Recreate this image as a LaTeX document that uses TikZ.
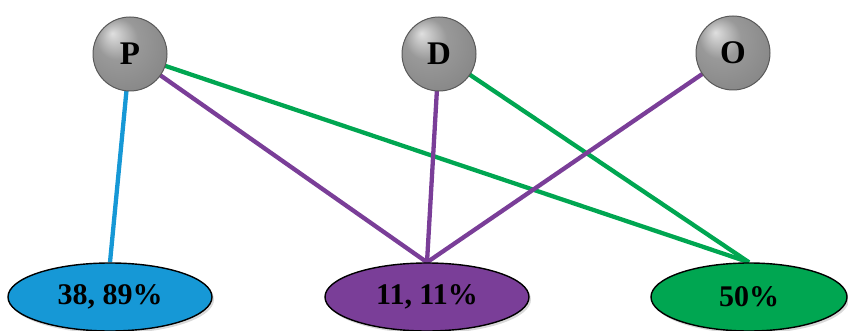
\documentclass[tikz,border=0pt]{standalone}
\usepackage{fontspec}
\setmainfont{Liberation Serif}
\usetikzlibrary{shapes.geometric,shadows,backgrounds}
\definecolor{cblue}{RGB}{22,152,214}
\definecolor{cpurple}{RGB}{122,62,152}
\definecolor{cgreen}{RGB}{0,166,81}
\pgfdeclareradialshading{greyball}{\pgfpoint{-12bp}{14bp}}{%
  color(0bp)=(gray!25!white);
  color(14bp)=(gray!80!white);
  color(34bp)=(gray!95!white);
  color(44bp)=(gray!85!black);
  color(52bp)=(gray!45!black)}
\begin{document}
\begin{tikzpicture}[x=1pt,y=-1pt,
  ball/.style={circle,minimum size=74pt,inner sep=0pt,draw=black!65,line width=1pt,shading=greyball,font=\bfseries\fontsize{33}{33}\selectfont},
  oval/.style={ellipse,minimum width=204pt,minimum height=68pt,inner sep=0pt,draw=black,line width=1.4pt,drop shadow={opacity=0.3,shadow xshift=2pt,shadow yshift=-2.5pt},font=\bfseries\fontsize{30}{30}\selectfont},
  link/.style={line width=4.3pt}]
\useasboundingbox (0,0) rectangle (848,331);
\node[oval,fill=cblue] (b) at (110,297) {38, 89\%};
\node[oval,fill=cpurple] (m) at (427,297) {11, 11\%};
\node[oval,fill=cgreen,minimum width=196pt] (g) at (749,297) {50\%};
\node[ball] (P) at (130,54) {P};
\node[ball] (D) at (439,54) {D};
\node[ball] (O) at (733,53) {O};
\begin{scope}[on background layer]
\draw[link,cblue] (P.center) -- (b.north);
\draw[link,cpurple] (P.center) -- (m.north);
\draw[link,cgreen] (P.center) -- (g.north);
\draw[link,cpurple] (D.center) -- (m.north);
\draw[link,cgreen] (D.center) -- (g.north);
\draw[link,cpurple] (O.center) -- (m.north);
\end{scope}
\end{tikzpicture}
\end{document}
